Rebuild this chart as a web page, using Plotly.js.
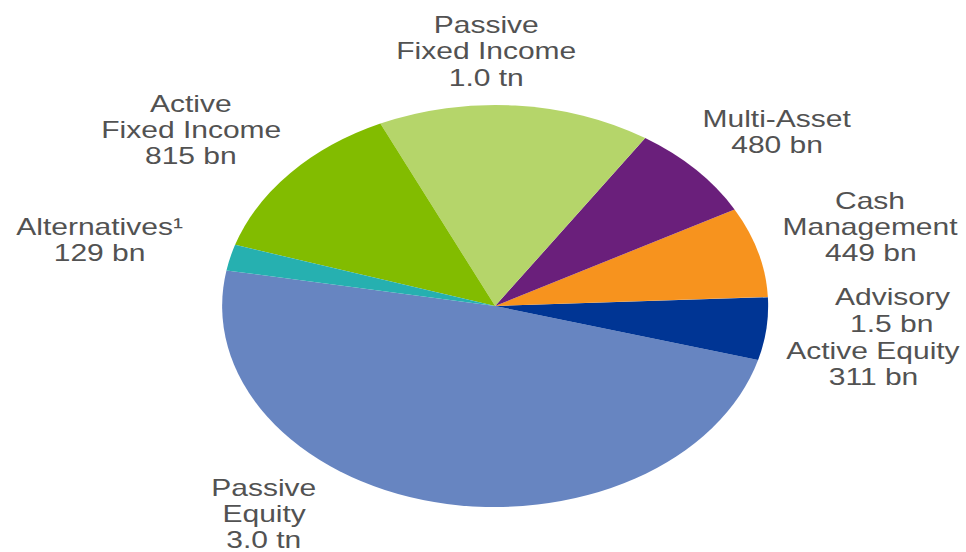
<!DOCTYPE html>
<html>
<head>
<meta charset="utf-8">
<script src="https://cdn.plot.ly/plotly-3.0.1.min.js"></script>
<style>
  html, body { margin: 0; padding: 0; background: #ffffff; overflow: hidden; }
  #wrap { width: 772.8px; height: 552px; transform: scaleX(1.25); transform-origin: 0 0; }
  #chart { width: 772.8px; height: 552px; }
</style>
</head>
<body>
<div id="wrap"><div id="chart"></div></div>
<script>
// ---- data ----
const categories = ['Passive Equity', 'Active Equity', 'Advisory', 'Cash Management',
                    'Multi-Asset', 'Passive Fixed Income', 'Active Fixed Income', 'Alternatives¹'];
const values     = [3000, 311, 1.5, 449, 480, 1000, 815, 129];   // USD bn
const valueText  = ['3.0 tn', '311 bn', '1.5 bn', '449 bn', '480 bn', '1.0 tn', '815 bn', '129 bn'];
const labelLines = [['Passive', 'Equity'], ['Active Equity'], ['Advisory'], ['Cash', 'Management'],
                    ['Multi-Asset'], ['Passive', 'Fixed Income'], ['Active', 'Fixed Income'], ['Alternatives¹']];

// ---- styles / layout ----
const colors = ['#6785C1', '#003594', '#9E9E9E', '#F7931E', '#6A1F7B', '#B5D56A', '#82BC00', '#26B0B0'];
const W = 966, H = 552, SX = 1.25;           // page stretch (text in the reference is stretched)
const innerW = W / SX;
const pieCY = 306, pieRY = 201, pieCX = 495, pieRX = 273;
// label centres (screen px): x, y of first line
const labelPos = [[264, 487], [873, 350], [892, 297], [870, 200], [777, 119], [486, 25], [191, 104], [99, 227]];
const lineStep = 26;
const font = { family: 'Liberation Sans, Arial, sans-serif', size: 24, color: '#525252' };

const cxInner = pieCX / SX;
const domX = [(cxInner - pieRY) / innerW, (cxInner + pieRY) / innerW];
const domY = [1 - (pieCY + pieRY) / H, 1 - (pieCY - pieRY) / H];

const annotations = [];
categories.forEach((c, i) => {
  const lines = labelLines[i].concat([valueText[i]]);
  lines.forEach((t, j) => {
    annotations.push({
      text: t, showarrow: false, xref: 'paper', yref: 'paper',
      x: labelPos[i][0] / W, y: 1 - (labelPos[i][1] + j * lineStep) / H,
      xanchor: 'center', yanchor: 'middle', font: font
    });
  });
});

const trace = {
  type: 'pie', labels: categories, values: values, sort: false,
  direction: 'counterclockwise', rotation: 105.6,
  marker: { colors: colors, line: { width: 0 } },
  textinfo: 'none', hoverinfo: 'label+value', showlegend: false,
  domain: { x: domX, y: domY }
};

const layout = {
  width: innerW, height: H, margin: { l: 0, r: 0, t: 0, b: 0 },
  paper_bgcolor: '#ffffff', plot_bgcolor: '#ffffff', showlegend: false,
  annotations: annotations
};

Plotly.newPlot('chart', [trace], layout, { staticPlot: true, displayModeBar: false }).then(gd => {
  // stretch the pie into the ellipse seen in the reference
  const k = (pieRX / SX) / pieRY;
  const pl = gd.querySelector('.pielayer');
  if (pl) pl.setAttribute('transform', `translate(${cxInner},0) scale(${k},1) translate(${-cxInner},0)`);
});
</script>
</body>
</html>
